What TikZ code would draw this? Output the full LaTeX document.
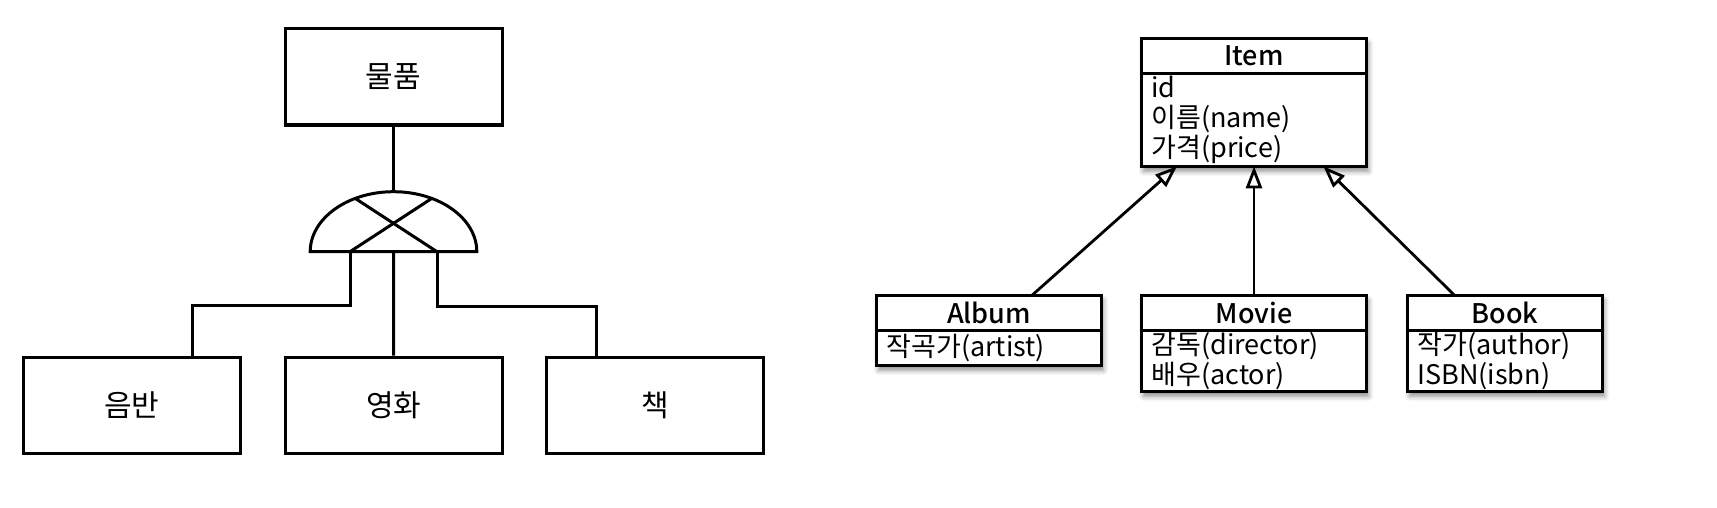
\documentclass[tikz,border=0pt]{standalone}
\usepackage{fontspec}
\setmainfont{Noto Sans CJK KR}
\newfontfamily\headfont{Noto Sans CJK KR Medium}
\usetikzlibrary{arrows.meta,shadows.blur,calc,fit,backgrounds}
\begin{document}
\begin{tikzpicture}[x=0.5pt,y=-0.5pt,
  erbox/.style={draw, line width=1.5pt, minimum width=108.5pt, minimum height=48pt, inner sep=0pt, font=\fontsize{15}{18}\selectfont},
  link/.style={line width=1.5pt},
  umlshadow/.style={fill=white, inner sep=0pt, outer sep=0pt, blur shadow={shadow xshift=1pt, shadow yshift=-2.5pt, shadow blur radius=2.5pt, shadow opacity=45}},
  umlhead/.style={draw, line width=1.4pt, fill=white, inner sep=0pt, outer sep=0pt, minimum height=17.5pt, anchor=north west, font=\fontsize{13.5}{15}\headfont},
  umlbody/.style={draw, line width=1.4pt, fill=white, inner xsep=5pt, inner ysep=0pt, outer sep=0pt, align=left, anchor=north west, font=\fontsize{13.5}{15}\selectfont},
  genarrow/.style={line width=1.4pt, -{Triangle[open, length=11pt, width=8pt]}}
]
\useasboundingbox (0,0) rectangle (1717,508);

% ---------- left: ER specialisation ----------
\node[erbox] (goods) at (393.5,77) {물품};
\node[erbox] (record) at (131.7,405) {음반};
\node[erbox] (film) at (393.6,405) {영화};
\node[erbox] (book) at (655.4,405) {책};

\coordinate (hub) at (393.5,251.7);
\coordinate (gtop) at (393.5,191.7);
\coordinate (bl) at (350,251.7);
\coordinate (br) at (437,251.7);
\coordinate (tl) at (355.2,198.4);
\coordinate (tr) at (431.8,198.4);

\draw[link, line join=miter] (310.2,251.7) arc[start angle=180, end angle=0, x radius=41.65pt, y radius=30pt] -- cycle;
\draw[link] (bl) -- (tr);
\draw[link] (br) -- (tl);
\draw[link] (goods.south) -- (gtop);
\draw[link] (hub) -- (film.north);
\draw[link] (bl) -- (350,305) -| ([xshift=30.3pt]record.north);
\draw[link] (br) -- (437,306) -| ([xshift=-29.7pt]book.north);

% ---------- right: UML classes ----------
\node[umlhead, minimum width=112.5pt] (itemh) at (1141.5,38.3) {Item};
\node[umlbody, text width=102.5pt, minimum height=46.5pt] (itemb) at (itemh.south west) {id\\이름(name)\\가격(price)};

\node[umlhead, minimum width=112.5pt] (albumh) at (876.5,295.3) {Album};
\node[umlbody, text width=102.5pt, minimum height=17.5pt] (albumb) at (albumh.south west) {작곡가(artist)};

\node[umlhead, minimum width=112.5pt] (movieh) at (1141.5,295.3) {Movie};
\node[umlbody, text width=102.5pt, minimum height=30.5pt] (movieb) at (movieh.south west) {감독(director)\\배우(actor)};

\node[umlhead, minimum width=97.5pt] (bookh) at (1407.5,295.3) {Book};
\node[umlbody, text width=87.5pt, minimum height=30.5pt] (bookb) at (bookh.south west) {작가(author)\\ISBN(isbn)};

\begin{scope}[on background layer]
  \node[umlshadow, fit=(itemh)(itemb)] (itemsh) {};
  \node[umlshadow, fit=(albumh)(albumb)] (albumsh) {};
  \node[umlshadow, fit=(movieh)(movieb)] (moviesh) {};
  \node[umlshadow, fit=(bookh)(bookb)] (booksh) {};
\end{scope}

\draw[genarrow] ([xshift=21.5pt]albumh.north) -- ([xshift=-38.5pt]itemb.south);
\draw[genarrow] (movieh.north) -- (itemb.south);
\draw[genarrow] ([xshift=-25.25pt]bookh.north) -- ([xshift=34.7pt]itemb.south);
\end{tikzpicture}
\end{document}
